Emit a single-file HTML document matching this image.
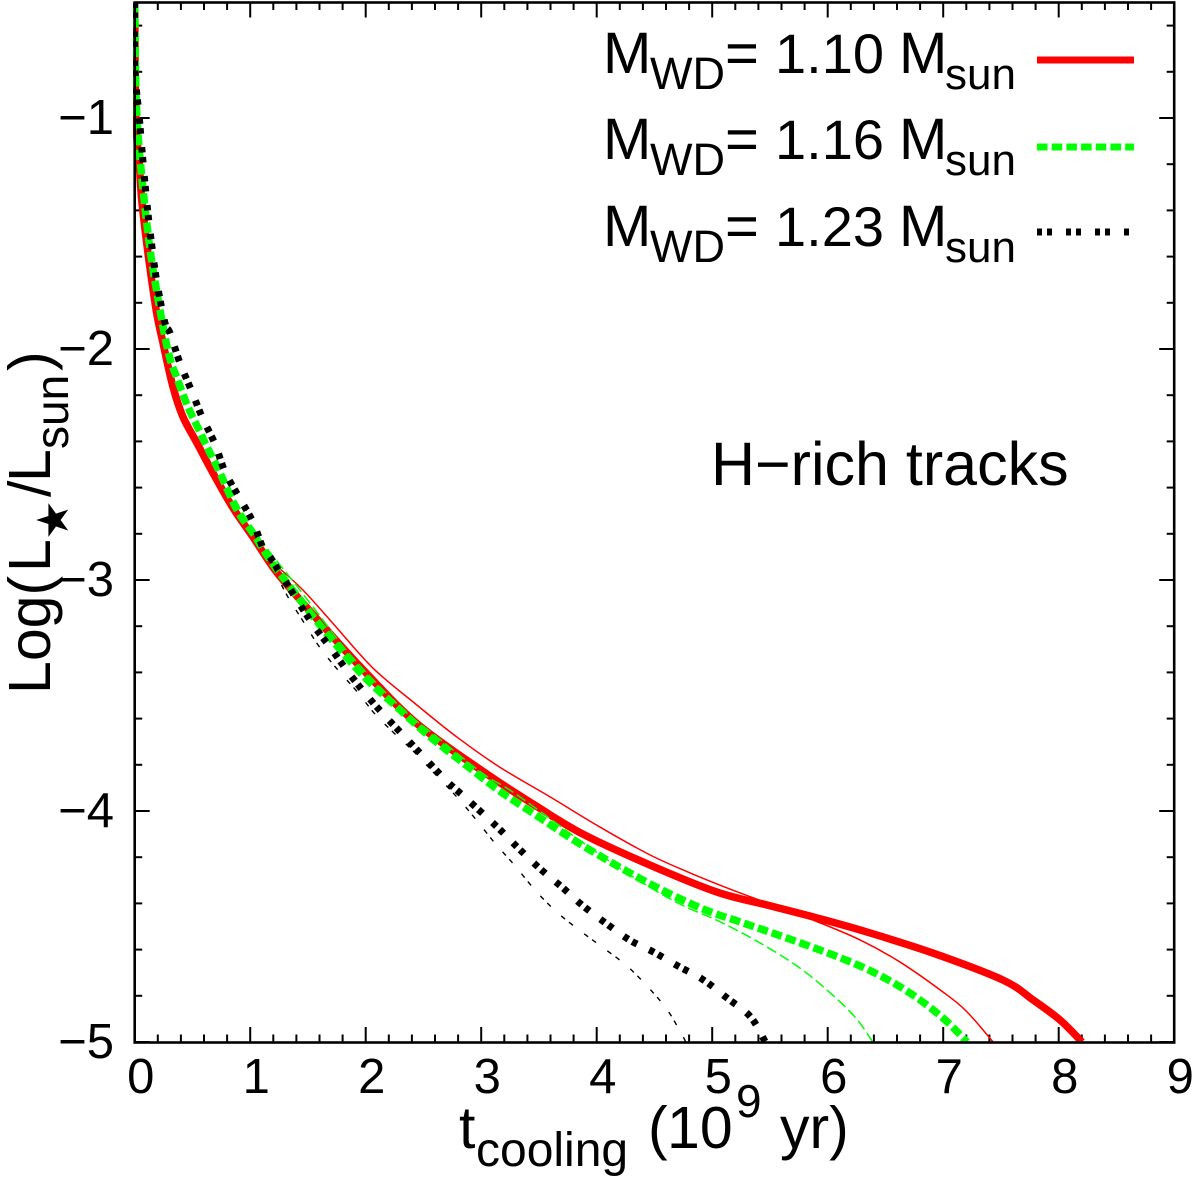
<!DOCTYPE html>
<html lang="en">
<head>
<meta charset="utf-8">
<title>H-rich cooling tracks</title>
<style>
html,body{margin:0;padding:0;background:#fff;}
svg{display:block;}
text{font-family:"Liberation Sans",sans-serif;fill:#000;}
</style>
</head>
<body>
<svg id="chart" xmlns="http://www.w3.org/2000/svg" width="1200" height="1181" viewBox="0 0 1200 1181">
  <defs><clipPath id="plot-clip"><rect x="133" y="2" width="1041" height="1041"/></clipPath></defs>
  <g id="ticks"></g>
  <g id="series" clip-path="url(#plot-clip)"></g>
  <rect x="134.7" y="2.5" width="1039.5" height="1040" fill="none" stroke="#000" stroke-width="2.6"/>
  <g id="tick-labels"></g>

  <text transform="translate(50,0) rotate(-90)" font-size="59"><tspan x="-694" y="0">Log(</tspan><tspan x="-572" y="0">L</tspan><tspan x="-497" y="0">/</tspan><tspan x="-482" y="0">L</tspan><tspan x="-449" y="18" font-size="46">sun</tspan><tspan x="-371" y="0">)</tspan></text>
  <text transform="translate(68,520) rotate(-90)" text-anchor="middle" font-size="44" style="font-family:'DejaVu Sans',sans-serif">★</text>

  <text font-size="59"><tspan x="459" y="1148">t</tspan><tspan x="476" y="1166" font-size="48">cooling</tspan><tspan x="648" y="1148">(</tspan><tspan x="667" y="1148">10</tspan><tspan x="736" y="1117" font-size="46">9</tspan><tspan x="780" y="1148">yr)</tspan></text>

  <text font-size="58"><tspan x="603" y="73">M</tspan><tspan x="650" y="89" font-size="45">WD</tspan><tspan x="725" y="73">=</tspan><tspan x="775" y="73" font-size="56">1.10</tspan><tspan x="899" y="73">M</tspan><tspan x="945" y="89" font-size="44">sun</tspan></text>
  <text font-size="58"><tspan x="603" y="159">M</tspan><tspan x="650" y="175" font-size="45">WD</tspan><tspan x="725" y="159">=</tspan><tspan x="775" y="159" font-size="56">1.16</tspan><tspan x="899" y="159">M</tspan><tspan x="945" y="175" font-size="44">sun</tspan></text>
  <text font-size="58"><tspan x="603" y="246">M</tspan><tspan x="650" y="262" font-size="45">WD</tspan><tspan x="725" y="246">=</tspan><tspan x="775" y="246" font-size="56">1.23</tspan><tspan x="899" y="246">M</tspan><tspan x="945" y="262" font-size="44">sun</tspan></text>

  <line x1="1037" y1="60" x2="1134" y2="60" stroke="#ff0000" stroke-width="7"/>
  <line x1="1037" y1="147" x2="1134" y2="147" stroke="#00ff00" stroke-width="7" stroke-dasharray="10.5 4.2"/>
  <line x1="1037" y1="232" x2="1134" y2="232" stroke="#000" stroke-width="7" stroke-dasharray="5 5 5 14"/>

  <text x="711" y="485" font-size="61">H−rich tracks</text>
</svg>
<script>
// ---- axis tick values ----
const xTickLabels = ["0","1","2","3","4","5","6","7","8","9"];
const yTickLabels = ["−1","−2","−3","−4","−5"];
const xMajorTicks = [0,1,2,3,4,5,6,7,8,9];
const yMajorTicks = [-1,-2,-3,-4,-5];

// ---- series: cooling time (10^9 yr) and log luminosity ----
const t110Thick = [0,0.01,0.04,0.07,0.176,0.245,0.332,0.418,0.539,0.678,0.851,1.024,1.171,1.284,1.58,1.98,2.44,3.02,3.45,3.88,4.461,5.041,5.474,5.907,6.340,6.911,7.518,7.778,8.012,8.202];
const L110Thick = [-0.5,-1,-1.2,-1.4,-1.801,-1.974,-2.165,-2.294,-2.407,-2.537,-2.688,-2.814,-2.926,-3.0,-3.17,-3.39,-3.62,-3.83,-3.97,-4.10,-4.234,-4.351,-4.407,-4.463,-4.524,-4.615,-4.732,-4.818,-4.905,-5.0];

const t110Thin = [0,0.01,0.07,0.176,0.245,0.332,0.418,0.539,0.678,0.851,1.024,1.17,1.45,1.72,2.06,2.44,2.79,3.16,3.60,4.03,4.461,4.808,5.154,5.474,5.873,6.280,6.626,6.999,7.207,7.432];
const L110Thin = [-0.5,-1,-1.4,-1.801,-1.974,-2.175,-2.312,-2.429,-2.558,-2.706,-2.82,-2.91,-3.04,-3.19,-3.38,-3.54,-3.68,-3.81,-3.94,-4.07,-4.19,-4.268,-4.338,-4.398,-4.472,-4.558,-4.654,-4.784,-4.87,-5.0];

const t116Thick = [0,0.02,0.115,0.219,0.297,0.366,0.461,0.565,0.626,0.739,0.886,1.024,1.171,1.319,1.66,1.99,2.27,2.56,2.84,3.15,3.45,3.88,4.44,4.90,5.24,5.59,6.045,6.392,6.712,6.998,7.206];
const L116Thick = [-0.5,-1.0,-1.5,-1.831,-2.026,-2.126,-2.251,-2.359,-2.424,-2.537,-2.697,-2.797,-2.913,-3.013,-3.23,-3.42,-3.55,-3.68,-3.79,-3.91,-4.01,-4.15,-4.31,-4.42,-4.48,-4.54,-4.623,-4.697,-4.788,-4.896,-5.0];

const t116Thin = [0,0.02,0.115,0.219,0.366,0.461,0.739,1.024,1.41,1.58,1.86,2.30,2.62,3.02,3.31,4.03,4.46,4.75,5.07,5.41,5.76,6.05,6.25,6.39];
const L116Thin = [-0.5,-1.0,-1.5,-1.831,-2.126,-2.251,-2.53,-2.78,-3.03,-3.14,-3.32,-3.55,-3.68,-3.84,-3.93,-4.19,-4.33,-4.41,-4.48,-4.57,-4.68,-4.80,-4.90,-5.0];

const t123Thick = [0,0.0,0.04,0.07,0.11,0.15,0.193,0.262,0.306,0.392,0.489,0.583,0.695,0.782,0.903,1.024,1.11,1.171,1.277,1.36,1.54,1.69,1.85,2.01,2.17,2.34,2.51,2.70,2.88,3.14,3.32,3.51,3.70,3.88,4.09,4.29,4.49,4.70,4.92,5.13,5.33,5.46];
const L123Thick = [-0.5,-0.78,-1.0,-1.18,-1.39,-1.56,-1.714,-1.887,-1.931,-2.061,-2.177,-2.294,-2.411,-2.532,-2.641,-2.749,-2.861,-2.900,-2.983,-3.05,-3.19,-3.29,-3.40,-3.50,-3.59,-3.68,-3.77,-3.87,-3.95,-4.07,-4.16,-4.25,-4.33,-4.41,-4.49,-4.56,-4.61,-4.67,-4.73,-4.81,-4.89,-5.0];

const t123Thin = [0,0.04,0.11,0.193,0.306,0.489,0.695,0.903,1.06,1.28,1.46,1.60,1.76,1.92,2.08,2.24,2.41,2.60,2.79,2.96,3.12,3.28,3.48,3.66,3.86,4.05,4.26,4.44,4.61,4.74,4.77];
const L123Thin = [-0.5,-1.0,-1.39,-1.714,-1.931,-2.177,-2.411,-2.641,-2.78,-3.03,-3.18,-3.29,-3.39,-3.48,-3.58,-3.66,-3.74,-3.84,-3.94,-4.04,-4.14,-4.23,-4.35,-4.44,-4.52,-4.59,-4.67,-4.76,-4.86,-4.97,-5.0];

// ---- axis functions ----
const NS = "http://www.w3.org/2000/svg";
function xScale(t){ return 134.7 + t * 115.5; }
function yScale(L){ return 118 + (-1 - L) * 231; }

function smoothPath(ts, Ls){
  const p = ts.map(function(t, i){ return [xScale(t), yScale(Ls[i])]; });
  let d = "M" + p[0][0].toFixed(2) + " " + p[0][1].toFixed(2);
  for (let i = 0; i < p.length - 1; i++){
    const a = p[Math.max(i - 1, 0)], b = p[i], c = p[i + 1], e = p[Math.min(i + 2, p.length - 1)];
    const k = 1 / 6;
    d += "C" + (b[0] + (c[0] - a[0]) * k).toFixed(2) + " " + (b[1] + (c[1] - a[1]) * k).toFixed(2) + " "
        + (c[0] - (e[0] - b[0]) * k).toFixed(2) + " " + (c[1] - (e[1] - b[1]) * k).toFixed(2) + " "
        + c[0].toFixed(2) + " " + c[1].toFixed(2);
  }
  return d;
}

const seriesGroup = document.getElementById("series");
function addCurve(name, ts, Ls, color, width, dash){
  const el = document.createElementNS(NS, "path");
  el.setAttribute("d", smoothPath(ts, Ls));
  el.setAttribute("fill", "none");
  el.setAttribute("stroke", color);
  el.setAttribute("stroke-width", width);
  el.setAttribute("stroke-linejoin", "round");
  if (dash) el.setAttribute("stroke-dasharray", dash);
  
  
  seriesGroup.appendChild(el);
}
addCurve("curve-110-thick", t110Thick, L110Thick, "#ff0000", 7.5, null);
addCurve("curve-110-thin", t110Thin, L110Thin, "#ff0000", 1.5, null);
addCurve("curve-116-thin", t116Thin, L116Thin, "#00ff00", 1.5, "10.5 4.2");
addCurve("curve-116-thick", t116Thick, L116Thick, "#00ff00", 7.5, "10.5 4.2");
addCurve("curve-123-thin", t123Thin, L123Thin, "#000000", 1.4, "5 5 5 14");
addCurve("curve-123-thick", t123Thick, L123Thick, "#000000", 7, "5.5 4.5 5.5 13.5");

// ---- ticks ----
const tickGroup = document.getElementById("ticks");
function addTick(name, x1, y1, x2, y2){
  const el = document.createElementNS(NS, "line");
  el.setAttribute("x1", x1);
  el.setAttribute("y1", y1);
  el.setAttribute("x2", x2);
  el.setAttribute("y2", y2);
  el.setAttribute("stroke", "#000");
  el.setAttribute("stroke-width", "2");
  
  
  tickGroup.appendChild(el);
}
const bottomY = yScale(-5), topY = yScale(-0.5), leftX = xScale(0), rightX = xScale(9);
for (let i = 0; i <= 45; i++){
  const v = i / 5, x = xScale(v), len = i % 5 === 0 ? 15 : 7.5;
  addTick("x-tick", x, bottomY, x, bottomY - len);
  addTick("x-tick-top", x, topY, x, topY + len);
}
for (let i = 0; i <= 22; i++){
  const v = -5 + i / 5, y = yScale(v), len = i % 5 === 0 ? 15 : 7.5;
  addTick("y-tick", leftX, y, leftX + len, y);
  addTick("y-tick-right", rightX, y, rightX - len, y);
}

// ---- tick labels ----
const labelGroup = document.getElementById("tick-labels");
xMajorTicks.forEach(function(v, i){
  const el = document.createElementNS(NS, "text");
  el.setAttribute("x", xScale(v) + 6);
  el.setAttribute("y", 1093);
  el.setAttribute("text-anchor", "middle");
  el.setAttribute("font-size", "49");
  
  
  el.textContent = xTickLabels[i];
  labelGroup.appendChild(el);
});
yMajorTicks.forEach(function(v, i){
  const el = document.createElementNS(NS, "text");
  el.setAttribute("x", 114);
  el.setAttribute("y", yScale(v) + 16);
  el.setAttribute("text-anchor", "end");
  el.setAttribute("font-size", "49");
  
  
  el.textContent = yTickLabels[i];
  labelGroup.appendChild(el);
});
</script>
</body>
</html>
